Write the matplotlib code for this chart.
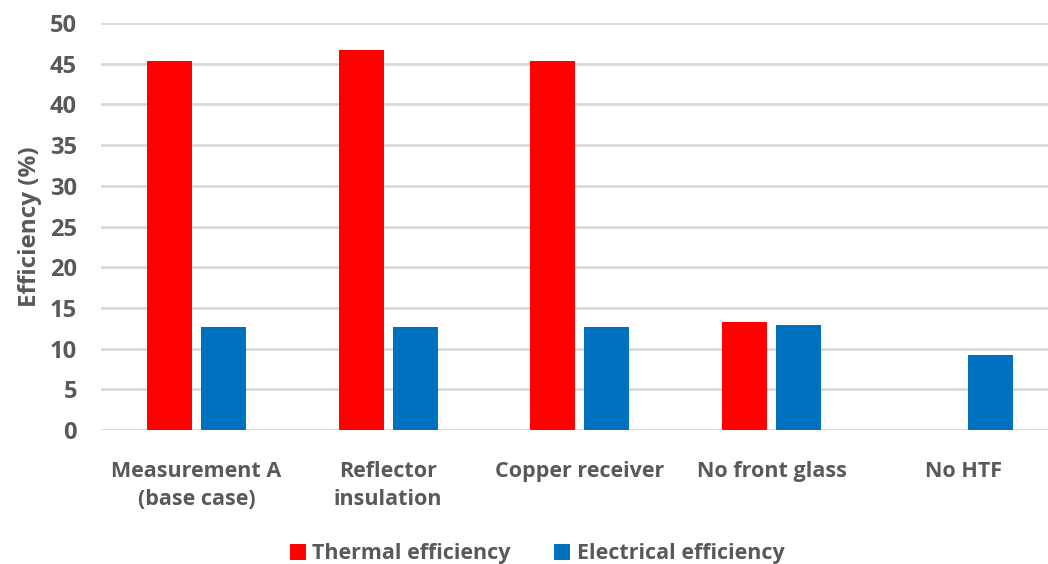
import matplotlib.pyplot as plt
import numpy as np

categories = ["Measurement A\n(base case)", "Reflector\ninsulation", "Copper receiver",
              "No front glass", "No HTF"]
thermal = [45.3, 46.7, 45.3, 13.3, np.nan]
electrical = [12.65, 12.6, 12.65, 12.9, 9.2]
yticks = [0, 5, 10, 15, 20, 25, 30, 35, 40, 45, 50]

RED = "#FF0000"
BLUE = "#0070C0"
GREY = "#595959"
GRID = "#D9D9D9"

plt.rcParams["font.family"] = ["Open Sans", "DejaVu Sans"]
plt.rcParams["font.weight"] = "bold"

fig = plt.figure(figsize=(10.48, 5.64), dpi=100)
ax = fig.add_axes([100.6 / 1048, (564 - 430) / 564, 958.5 / 1048, 407 / 564])

x = np.arange(len(categories))
w = 0.235
gap = 0.047
ax.bar(x - (w + gap) / 2, thermal, width=w, color=RED, label="Thermal efficiency", zorder=3)
ax.bar(x + (w + gap) / 2, electrical, width=w, color=BLUE, label="Electrical efficiency", zorder=3)

ax.set_xlim(-0.5, len(categories) - 0.5)
ax.set_ylim(0, 50)
ax.set_yticks(yticks)
ax.yaxis.grid(True, color=GRID, linewidth=2, zorder=0)
ax.set_axisbelow(True)
for s in ax.spines.values():
    s.set_visible(False)
ax.tick_params(axis="y", length=0, labelsize=17, colors=GREY, pad=17)
ax.tick_params(axis="x", length=0, colors=GREY, pad=22)
ax.set_xticks(x)
ax.set_xticklabels(categories, fontsize=15.5, fontweight="bold", color=GREY, linespacing=1.45)
for lbl in ax.get_yticklabels():
    lbl.set_fontweight("bold")

ax.set_ylabel("Efficiency (%)", fontsize=17.5, fontweight="bold", color=GREY, labelpad=6)

leg = fig.legend(loc="center", bbox_to_anchor=(537 / 1048, 1 - 554 / 564), ncol=2,
                 frameon=False, fontsize=15.5, handlelength=0.75, handleheight=0.75,
                 handletextpad=0.3, columnspacing=2.0)
for t in leg.get_texts():
    t.set_color(GREY)
    t.set_fontweight("bold")

fig.savefig("out.png", dpi=100)
